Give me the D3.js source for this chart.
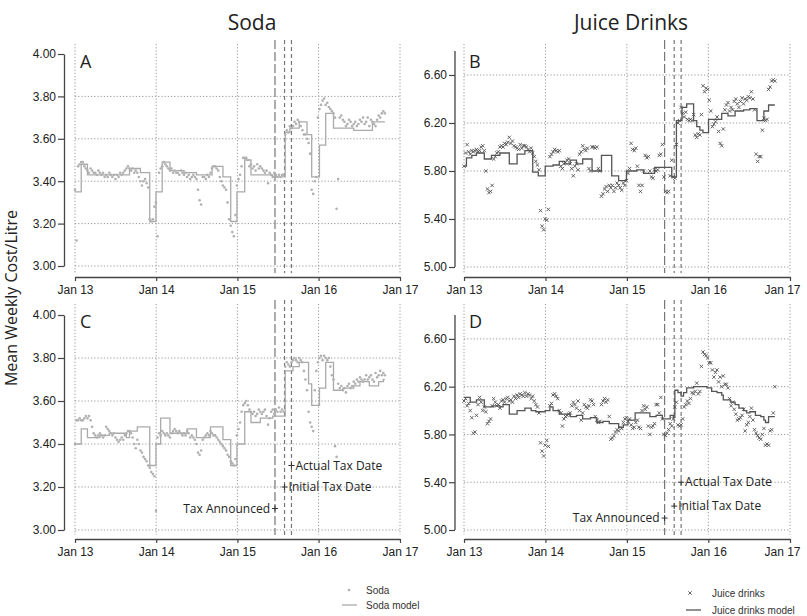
<!DOCTYPE html>
<html>
<head>
<meta charset="utf-8">
<script src="https://cdn.jsdelivr.net/npm/d3@7"></script>
<style>
  body { margin: 0; background: #fff; }
  svg text { font-family: "Liberation Sans", Arial, sans-serif; }
</style>
</head>
<body>
<svg id="chart" width="807" height="616"></svg>
<script>
// weekly series, week 0 = 1 Jan 2013
const sodaA = [
  3.36, 3.12, 3.47, 3.48, 3.49, 3.49, 3.47, 3.46, 3.45, 3.44,
  3.46, 3.45, 3.44, 3.44, 3.43, 3.45, 3.44, 3.43, 3.44, 3.42,
  3.43, 3.42, 3.44, 3.43, 3.42, 3.43, 3.41, 3.43, 3.42, 3.44,
  3.43, 3.44, 3.45, 3.46, 3.47, 3.46, 3.45, 3.46, 3.44, 3.45,
  3.44, 3.42, 3.40, 3.38, 3.40, 3.41, 3.39, 3.37, 3.22, 3.21,
  3.22, 3.28, 3.30, 3.14, 3.44, 3.46, 3.47, 3.49, 3.48, 3.47,
  3.46, 3.45, 3.46, 3.44, 3.45, 3.44, 3.44, 3.43, 3.45, 3.44,
  3.43, 3.44, 3.42, 3.43, 3.41, 3.42, 3.43, 3.42, 3.41, 3.36,
  3.31, 3.29, 3.42, 3.42, 3.41, 3.43, 3.42, 3.44, 3.46, 3.47,
  3.47, 3.46, 3.45, 3.42, 3.40, 3.38, 3.37, 3.36, 3.30, 3.22,
  3.19, 3.16, 3.14, 3.24, 3.38, 3.41, 3.43, 3.47, 3.51, 3.51,
  3.51, 3.50, 3.47, 3.48, 3.46, 3.47, 3.45, 3.48, 3.46, 3.47,
  3.46, 3.45, 3.44, 3.45, 3.39, 3.44, 3.43, 3.42, 3.44, 3.43,
  3.42, 3.43, 3.42, 3.43, 3.43, 3.62, 3.64, 3.63, 3.66, 3.65,
  3.66, 3.68, 3.67, 3.69, 3.68, 3.66, 3.64, 3.62, 3.62, 3.60,
  3.58, 3.53, 3.36, 3.34, 3.40, 3.42, 3.70, 3.74, 3.76, 3.78,
  3.79, 3.76, 3.77, 3.75, 3.74, 3.73, 3.72, 3.70, 3.27, 3.41,
  3.70, 3.71, 3.69, 3.68, 3.66, 3.67, 3.69, 3.68, 3.66, 3.67,
  3.68, 3.66, 3.67, 3.69, 3.68, 3.70, 3.67, 3.68, 3.70, 3.66,
  3.69, 3.68, 3.67, 3.66, 3.69, 3.71, 3.70, 3.72, 3.73, 3.72
];
const sodaModelAWeeks = [0, 4, 8, 35, 42, 48, 52, 56, 61, 70, 78, 88, 95, 100, 104, 109, 113, 127, 135, 138, 144, 149, 152, 157, 161, 166, 179, 191, 199];
const sodaModelAVals  = [3.35, 3.48, 3.43, 3.46, 3.44, 3.21, 3.35, 3.49, 3.45, 3.44, 3.43, 3.47, 3.42, 3.21, 3.35, 3.50, 3.43, 3.42, 3.63, 3.65, 3.68, 3.62, 3.42, 3.57, 3.72, 3.65, 3.64, 3.68, 3.68];

const juiceB = [
  5.84, 5.95, 6.02, 5.96, 5.94, 5.97, 5.96, 5.97, 5.98, 5.96,
  5.97, 6.00, 6.01, 5.97, 5.80, 5.65, 5.62, 5.63, 5.68, 5.90,
  5.92, 5.95, 5.96, 6.00, 6.01, 6.00, 6.03, 6.02, 6.04, 6.08,
  6.03, 6.05, 6.01, 6.00, 5.99, 5.98, 6.02, 5.99, 6.01, 6.01,
  6.00, 5.98, 5.96, 5.99, 5.95, 5.92, 5.88, 5.85, 5.81, 5.47,
  5.34, 5.31, 5.40, 5.39, 5.48, 5.92, 5.94, 5.96, 5.98, 5.97,
  5.96, 5.97, 5.84, 5.82, 5.86, 5.87, 5.89, 5.90, 5.86, 5.82,
  5.76, 5.84, 5.86, 5.81, 5.94, 5.96, 6.01, 5.98, 5.97, 5.99,
  5.82, 5.80, 6.00, 6.00, 5.99, 6.00, 5.82, 5.80, 5.59, 5.61,
  5.65, 5.67, 5.63, 5.68, 5.66, 5.68, 5.63, 5.66, 5.70, 5.68,
  5.66, 5.64, 5.70, 5.68, 5.72, 5.78, 5.82, 6.03, 5.98, 5.97,
  5.99, 5.84, 5.68, 5.63, 5.68, 5.80, 5.93, 5.91, 5.92, 5.80,
  5.75, 5.74, 5.81, 5.80, 5.81, 5.93, 5.94, 6.02, 5.75, 5.63,
  5.62, 5.63, 5.76, 5.89, 5.75, 5.74, 6.02, 6.20, 6.22, 6.33,
  6.28, 6.25, 6.29, 6.23, 6.22, 6.23, 6.22, 6.27, 6.10, 6.08,
  6.11, 6.10, 6.27, 6.51, 6.46, 6.49, 6.48, 6.39, 6.30, 6.17,
  6.19, 6.21, 6.25, 6.13, 6.03, 6.01, 6.15, 6.31, 6.35, 6.37,
  6.30, 6.33, 6.31, 6.38, 6.40, 6.36, 6.33, 6.38, 6.41, 6.36,
  6.40, 6.39, 6.42, 6.41, 6.46, 6.40, 6.31, 5.94, 5.88, 5.92,
  5.92, 6.14, 6.24, 6.22, 6.23, 6.48, 6.50, 6.55, 6.56, 6.55
];
const juiceModelBWeeks = [0, 1.5, 5, 8, 13, 17.5, 23, 29, 34, 39, 44, 47.5, 52, 57, 61, 64.5, 68, 72, 76, 82, 88, 94.5, 99, 104, 110.5, 115, 122, 133, 136, 139.5, 142.5, 147, 149, 151, 153, 156.5, 165, 169, 173.5, 179, 183, 187.5, 192, 195, 199];
const juiceModelBVals  = [5.84, 5.91, 5.93, 5.95, 5.90, 5.93, 5.95, 5.86, 5.94, 5.97, 5.79, 5.76, 5.84, 5.85, 5.88, 5.86, 5.89, 5.86, 5.90, 5.80, 5.93, 5.76, 5.72, 5.80, 5.81, 5.78, 5.83, 5.75, 6.22, 6.33, 6.36, 6.22, 6.17, 6.14, 6.12, 6.23, 6.28, 6.26, 6.30, 6.31, 6.32, 6.22, 6.30, 6.35, 6.35];

const sodaC = [
  3.40, 3.51, 3.51, 3.52, 3.51, 3.51, 3.52, 3.53, 3.52, 3.53,
  3.51, 3.48, 3.45, 3.44, 3.43, 3.44, 3.45, 3.44, 3.43, 3.44,
  3.48, 3.47, 3.46, 3.45, 3.44, 3.45, 3.43, 3.42, 3.41, 3.42,
  3.43, 3.42, 3.44, 3.45, 3.46, 3.46, 3.45, 3.43, 3.40, 3.38,
  3.42, 3.40, 3.37, 3.36, 3.34, 3.33, 3.32, 3.30, 3.29, 3.27,
  3.26, 3.25, 3.09, 3.43, 3.45, 3.44, 3.46, 3.45, 3.44, 3.45,
  3.44, 3.43, 3.45, 3.46, 3.47, 3.46, 3.45, 3.46, 3.45, 3.44,
  3.45, 3.44, 3.46, 3.45, 3.43, 3.44, 3.43, 3.42, 3.40, 3.36,
  3.35, 3.37, 3.42, 3.43, 3.44, 3.45, 3.44, 3.46, 3.45, 3.44,
  3.44, 3.43, 3.42, 3.41, 3.40, 3.39, 3.38, 3.37, 3.35, 3.34,
  3.32, 3.31, 3.30, 3.33, 3.44, 3.47, 3.50, 3.55, 3.58, 3.59,
  3.60, 3.58, 3.56, 3.55, 3.54, 3.55, 3.53, 3.54, 3.56, 3.55,
  3.54, 3.55, 3.56, 3.53, 3.49, 3.52, 3.55, 3.56, 3.54, 3.56,
  3.55, 3.57, 3.55, 3.56, 3.55, 3.76, 3.78, 3.77, 3.76, 3.78,
  3.79, 3.80, 3.79, 3.78, 3.80, 3.79, 3.78, 3.74, 3.70, 3.65,
  3.55, 3.50, 3.48, 3.46, 3.65, 3.74, 3.78, 3.80, 3.81, 3.79,
  3.81, 3.80, 3.79, 3.80, 3.76, 3.72, 3.70, 3.39, 3.34, 3.68,
  3.66, 3.67, 3.65, 3.66, 3.64, 3.67, 3.68, 3.66, 3.67, 3.69,
  3.68, 3.70, 3.69, 3.71, 3.70, 3.69, 3.70, 3.72, 3.70, 3.71,
  3.72, 3.70, 3.69, 3.73, 3.71, 3.72, 3.74, 3.72, 3.73, 3.72
];
const sodaModelCWeeks = [0, 4, 8, 16, 22, 33, 35, 40, 48, 52, 55, 61, 72, 78, 87, 95, 100, 104, 109, 113, 119, 127, 135, 140, 144, 150, 152, 157, 161, 166, 172, 179, 183, 189, 195, 198, 199];
const sodaModelCVals  = [3.40, 3.47, 3.43, 3.44, 3.45, 3.43, 3.46, 3.48, 3.30, 3.40, 3.52, 3.45, 3.47, 3.43, 3.48, 3.42, 3.30, 3.40, 3.55, 3.50, 3.52, 3.53, 3.74, 3.76, 3.78, 3.68, 3.58, 3.66, 3.78, 3.65, 3.66, 3.67, 3.69, 3.67, 3.69, 3.70, 3.70];

const juiceD = [
  6.08, 6.10, 6.04, 6.06, 6.00, 5.94, 5.81, 5.82, 5.96, 6.05,
  6.11, 6.07, 6.00, 6.03, 5.99, 5.89, 5.91, 5.93, 6.04, 6.10,
  6.07, 6.04, 6.05, 6.02, 6.08, 6.09, 6.07, 6.10, 6.11, 6.08,
  6.09, 6.07, 6.12, 6.10, 6.13, 6.11, 6.14, 6.13, 6.12, 6.15,
  6.12, 6.14, 6.13, 6.10, 6.12, 6.08, 6.05, 6.03, 5.98, 5.73,
  5.66, 5.62, 5.71, 5.75, 5.70, 6.04, 6.06, 6.13, 6.14, 6.12,
  6.10, 6.00, 5.98, 5.87, 5.93, 5.95, 5.96, 5.97, 5.98, 6.04,
  6.07, 6.05, 6.02, 6.08, 6.00, 5.92, 5.98, 6.05, 6.03, 6.02,
  6.04, 6.09, 6.08, 6.05, 5.95, 5.92, 5.90, 5.91, 6.05, 6.08,
  6.10, 6.07, 6.09, 5.95, 5.76, 5.77, 5.79, 5.82, 5.84, 5.83,
  5.86, 5.85, 5.90, 5.93, 5.94, 5.91, 5.93, 5.88, 5.85, 5.86,
  5.90, 5.92, 5.86, 5.85, 6.00, 6.04, 6.01, 6.03, 5.87, 5.80,
  5.86, 5.87, 5.89, 6.05, 6.05, 5.98, 6.11, 5.93, 5.80, 5.79,
  5.81, 5.84, 5.89, 5.87, 5.93, 6.03, 6.07, 5.88, 5.87, 5.88,
  5.93, 6.03, 6.05, 6.08, 6.06, 6.10, 6.15, 6.14, 6.16, 6.23,
  6.14, 6.16, 6.37, 6.49, 6.47, 6.46, 6.44, 6.40, 6.40, 6.34,
  6.28, 6.32, 6.34, 6.24, 6.28, 6.20, 6.29, 6.22, 6.22, 6.19,
  6.10, 6.04, 6.07, 6.01, 5.97, 5.92, 5.93, 5.94, 5.96, 6.01,
  5.83, 5.88, 5.90, 5.95, 6.02, 5.92, 5.84, 5.81, 5.79, 5.77,
  5.76, 5.80, 5.85, 5.71, 5.72, 5.71, 5.83, 5.84, 5.98, 6.20
];
const juiceModelDWeeks = [0, 4, 8, 13, 18.5, 23, 25, 29, 34, 39, 43, 46, 52, 55, 57, 61, 68, 72, 76, 81, 85, 89, 93, 99, 102, 105, 109.5, 119, 123, 127, 132, 134, 135, 137, 139, 140.5, 142.5, 147, 155.5, 158.5, 162, 165, 166, 170.5, 173.5, 176, 179, 181, 183, 186.5, 190, 192, 193, 195, 199];
const juiceModelDVals  = [6.11, 6.07, 6.09, 6.03, 6.04, 6.03, 6.05, 5.97, 6.00, 6.02, 6.00, 5.99, 6.00, 6.03, 6.00, 5.97, 5.95, 5.96, 5.93, 5.94, 5.90, 5.91, 5.89, 5.86, 5.88, 5.92, 5.98, 5.95, 5.96, 5.93, 5.96, 5.94, 6.17, 6.15, 6.12, 6.15, 6.19, 6.20, 6.19, 6.16, 6.15, 6.13, 6.09, 6.07, 6.05, 6.02, 6.00, 5.98, 5.99, 5.96, 5.95, 5.92, 5.90, 5.95, 5.95];

const taxDates = ["2015-06-19", "2015-08-01", "2015-09-01"];
const taxLabels = ["Tax Announced", "Initial Tax Date", "Actual Tax Date"];
const sodaTicks = [3.0, 3.2, 3.4, 3.6, 3.8, 4.0];
const sodaGrid = [3.0, 3.2, 3.4, 3.6, 3.8];
const juiceTicks = [5.0, 5.4, 5.8, 6.2, 6.6];
const sodaMarkY = [3.10, 3.20, 3.30];
const juiceMarkY = [5.10, 5.20, 5.40];
const yearTicks = ["2013-01-01", "2014-01-01", "2015-01-01", "2016-01-01", "2017-01-01"];

const svg = d3.select("#chart");
const parse = d3.utcParse("%Y-%m-%d");
const start = parse("2013-01-01");
const weekDate = w => d3.utcDay.offset(start, Math.round(w * 7));
const years = yearTicks.map(parse);
const taxD = taxDates.map(parse);

const cols = [{x0: 75, x1: 400, ax: 64}, {x0: 464, x1: 790, ax: 455}];
const rows = [
  {axisY: 277, top: 44, bottom: 273, soda: [266, 54], juice: [267, 51]},
  {axisY: 539, top: 304, bottom: 535, soda: [530, 315], juice: [530, 315]}
];

const panels = [
  {label: "A", col: 0, row: 0, kind: "soda", obs: sodaA, mw: sodaModelAWeeks, mv: sodaModelAVals},
  {label: "B", col: 1, row: 0, kind: "juice", obs: juiceB, mw: juiceModelBWeeks, mv: juiceModelBVals},
  {label: "C", col: 0, row: 1, kind: "soda", obs: sodaC, mw: sodaModelCWeeks, mv: sodaModelCVals},
  {label: "D", col: 1, row: 1, kind: "juice", obs: juiceD, mw: juiceModelDWeeks, mv: juiceModelDVals}
];

const crossPath = "M-1.7,-1.7L1.7,1.7M-1.7,1.7L1.7,-1.7";
const plusPath = "M-3,0H3M0,-3V3";

panels.forEach(p => {
  const c = cols[p.col], r = rows[p.row];
  const soda = p.kind === "soda";
  const x = d3.scaleUtc().domain([years[0], years[4]]).range([c.x0, c.x1]);
  const y = d3.scaleLinear().domain(soda ? [3, 4] : [5, 6.8]).range(soda ? r.soda : r.juice);
  const g = svg.append("g");

  // dotted grid
  g.selectAll(".vg").data(years).join("line")
    .attr("x1", d => x(d)).attr("x2", d => x(d))
    .attr("y1", r.top).attr("y2", r.bottom)
    .attr("stroke", "#999").attr("stroke-dasharray", "1.2,2");
  g.selectAll(".hg").data(soda ? sodaGrid : juiceTicks).join("line")
    .attr("x1", c.x0).attr("x2", c.x1)
    .attr("y1", d => y(d)).attr("y2", d => y(d))
    .attr("stroke", "#999").attr("stroke-dasharray", "1.2,2");

  // tax dates
  g.selectAll(".tax").data(taxD).join("line")
    .attr("x1", d => x(d)).attr("x2", d => x(d))
    .attr("y1", r.top - 4).attr("y2", r.bottom)
    .attr("stroke", "#777").attr("stroke-width", 1.2)
    .attr("stroke-dasharray", (d, i) => i === 0 ? "9,3" : "4,3");

  // model
  const model = p.mw.map((w, i) => [weekDate(w), p.mv[i]]);
  g.append("path").datum(model)
    .attr("fill", "none")
    .attr("stroke", soda ? "#aaa" : "#555")
    .attr("stroke-width", 1.3)
    .attr("d", d3.line().x(d => x(d[0])).y(d => y(d[1])).curve(d3.curveStepAfter));

  // observations
  const obs = p.obs.map((v, i) => [weekDate(i), v]);
  if (soda) {
    g.selectAll(".pt").data(obs).join("circle")
      .attr("cx", d => x(d[0])).attr("cy", d => y(d[1]))
      .attr("r", 1.3).attr("fill", "#b0b0b0");
  } else {
    g.selectAll(".pt").data(obs).join("path")
      .attr("transform", d => `translate(${x(d[0])},${y(d[1])})`)
      .attr("d", crossPath).attr("stroke", "#555").attr("stroke-width", 0.9).attr("fill", "none");
  }

  // axes
  const ya = g.append("g").attr("transform", `translate(${c.ax},0)`)
    .call(d3.axisLeft(y).tickValues(soda ? sodaTicks : juiceTicks).tickFormat(d3.format(".2f"))
      .tickSize(6).tickPadding(2).tickSizeOuter(0));
  if (!soda) ya.select(".domain").attr("d", `M0,${y(6.8)}V${y(5)}`);
  const xa = g.append("g").attr("transform", `translate(0,${r.axisY})`)
    .call(d3.axisBottom(x).tickValues(years).tickFormat(d3.utcFormat("Jan %y"))
      .tickSize(4).tickPadding(4).tickSizeOuter(0));
  [ya, xa].forEach(a => {
    a.select(".domain").attr("stroke", "#444").attr("stroke-width", 1.3);
    a.selectAll(".tick line").attr("stroke", "#444").attr("stroke-width", 1.2);
    a.selectAll(".tick text").attr("fill", "#222").style("font-size", "12px");
  });
  // last label on the right column sits inside the page edge
  if (p.col === 1) xa.selectAll(".tick text").filter((d, i) => i === 4).attr("dx", -8);

  g.append("text").attr("x", c.x0 + 5).attr("y", r.top + 24)
    .attr("font-size", 18).style("font-family", "'Open Sans', sans-serif").attr("fill", "#222")
    .text(p.label);

  // tax date markers on the bottom row
  if (p.row === 1) {
    const my = soda ? sodaMarkY : juiceMarkY;
    taxD.forEach((d, i) => {
      const px = x(d), py = y(my[i]);
      g.append("path").attr("d", plusPath).attr("transform", `translate(${px},${py})`)
        .attr("stroke", "#333").attr("stroke-width", 1);
      g.append("text")
        .attr("x", i === 0 ? px - 5 : px + 4).attr("y", py + 4)
        .attr("text-anchor", i === 0 ? "end" : "start")
        .attr("font-size", 12).style("font-family", "'Open Sans', sans-serif").attr("fill", "#222")
        .text(taxLabels[i]);
    });
  }
});

// titles
svg.append("text").attr("x", 252).attr("y", 30).attr("text-anchor", "middle")
  .attr("font-size", 21).style("font-family", "'Open Sans', sans-serif").attr("fill", "#222").text("Soda");
svg.append("text").attr("x", 631).attr("y", 30).attr("text-anchor", "middle")
  .attr("font-size", 21).style("font-family", "'Open Sans', sans-serif").attr("fill", "#222").text("Juice Drinks");
svg.append("text").attr("transform", "translate(17,298) rotate(-90)").attr("text-anchor", "middle")
  .attr("font-size", 16).style("font-family", "'Open Sans', sans-serif").attr("fill", "#222")
  .text("Mean Weekly Cost/Litre");

// legend
const leg = svg.append("g").style("font-size", "10px");
leg.append("circle").attr("cx", 349).attr("cy", 590).attr("r", 1.3).attr("fill", "#b0b0b0");
leg.append("text").attr("x", 366).attr("y", 594).attr("fill", "#333").text("Soda");
leg.append("line").attr("x1", 342).attr("x2", 357).attr("y1", 605).attr("y2", 605).attr("stroke", "#aaa").attr("stroke-width", 1.3);
leg.append("text").attr("x", 366).attr("y", 609).attr("fill", "#333").text("Soda model");
leg.append("path").attr("d", crossPath).attr("transform", "translate(690,593)").attr("stroke", "#555").attr("stroke-width", 0.9);
leg.append("text").attr("x", 712).attr("y", 597).attr("fill", "#333").text("Juice drinks");
leg.append("line").attr("x1", 686).attr("x2", 701).attr("y1", 610).attr("y2", 610).attr("stroke", "#555").attr("stroke-width", 1.3);
leg.append("text").attr("x", 712).attr("y", 614).attr("fill", "#333").text("Juice drinks model");
</script>
</body>
</html>
